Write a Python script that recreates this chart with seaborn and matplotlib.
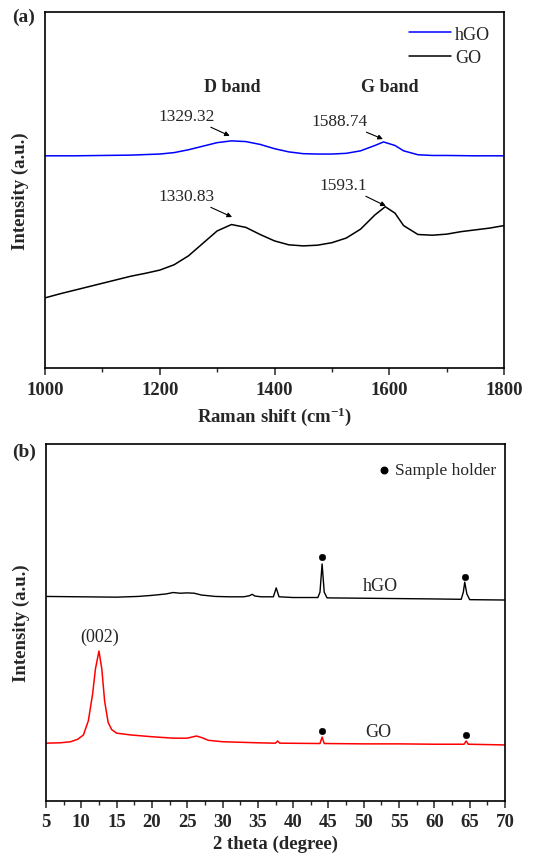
import matplotlib
matplotlib.use("Agg")
import matplotlib.pyplot as plt
import seaborn as sns
import pandas as pd

# ---------------- data: Raman (panel a) ----------------
raman_go_x = [1000, 1025, 1050, 1075, 1100, 1125, 1150, 1175, 1200, 1225, 1250, 1275,
              1300, 1325, 1350, 1375, 1400, 1425, 1450, 1475, 1500, 1525, 1550, 1575,
              1593, 1610, 1625, 1650, 1675, 1700, 1725, 1750, 1775, 1800]
raman_go_y = [19.7, 20.8, 21.8, 22.8, 23.8, 24.8, 25.8, 26.6, 27.5, 29.0, 31.5, 35.0,
              38.5, 40.3, 39.5, 37.5, 35.7, 34.6, 34.3, 34.5, 35.2, 36.5, 39.0, 43.0,
              45.3, 43.5, 40.0, 37.5, 37.3, 37.6, 38.3, 38.8, 39.3, 40.0]
raman_hgo_x = [1000, 1050, 1100, 1150, 1200, 1225, 1250, 1275, 1300, 1325, 1350, 1375,
               1400, 1425, 1450, 1475, 1500, 1525, 1550, 1575, 1590, 1610, 1625, 1650,
               1675, 1700, 1750, 1800]
raman_hgo_y = [59.6, 59.6, 59.7, 59.8, 60.1, 60.5, 61.3, 62.3, 63.3, 63.8, 63.6, 62.8,
               61.6, 60.7, 60.2, 60.1, 60.1, 60.3, 61.0, 62.5, 63.5, 62.5, 61.0, 59.9,
               59.7, 59.7, 59.6, 59.6]
raman_ticks = [1000, 1200, 1400, 1600, 1800]

# ---------------- data: XRD (panel b) ----------------
xrd_hgo_x = [5, 10, 15, 18, 20, 22, 23, 24, 25, 26, 27, 29, 31, 33, 33.8, 34.2, 34.6,
             35.5, 37.2, 37.6, 38.0, 40, 43.5, 43.8, 44.1, 44.4, 44.8, 50, 55, 60,
             63.8, 64.1, 64.3, 64.6, 65, 70]
xrd_hgo_y = [57.3, 57.2, 57.1, 57.3, 57.6, 58.0, 58.4, 58.2, 58.3, 58.2, 57.7, 57.3,
             57.2, 57.2, 57.5, 57.9, 57.4, 57.2, 57.2, 59.7, 57.2, 57.0, 57.0, 58.5,
             66.4, 58.5, 56.9, 56.8, 56.7, 56.6, 56.5, 58.5, 61.3, 58.0, 56.4, 56.3]
xrd_go_x = [5, 7, 8.5, 9.5, 10.3, 11, 11.6, 12.0, 12.5, 12.9, 13.3, 13.8, 14.3, 15,
            17, 20, 23, 25, 26.3, 27, 28, 30, 35, 37.5, 37.8, 38.1, 43.8, 44.1, 44.4,
            50, 55, 60, 64.2, 64.5, 64.8, 70]
xrd_go_y = [16.2, 16.3, 16.6, 17.3, 18.5, 22.5, 30.0, 37.0, 42.0, 37.0, 28.0, 22.0,
            20.0, 19.0, 18.5, 18.0, 17.6, 17.6, 18.2, 17.8, 17.0, 16.6, 16.3, 16.2,
            16.8, 16.2, 16.1, 17.9, 16.1, 16.0, 16.0, 15.9, 15.9, 16.8, 15.9, 15.7]
xrd_ticks = list(range(5, 71, 5))
holder_hgo_x = [44.1, 64.3]
holder_hgo_y = [68.3, 62.7]
holder_go_x = [44.1, 64.5]
holder_go_y = [19.6, 18.5]

# ---------------- style ----------------
sns.set_theme(style="ticks")
plt.rcParams["font.family"] = ["Liberation Serif", "DejaVu Serif"]
plt.rcParams["mathtext.fontset"] = "custom"
plt.rcParams["mathtext.rm"] = "Liberation Serif:bold"
plt.rcParams["mathtext.bf"] = "Liberation Serif:bold"
plt.rcParams["mathtext.default"] = "bf"
plt.rcParams["axes.linewidth"] = 1.2

fig = plt.figure(figsize=(5.51, 8.54), dpi=100)
ax1 = fig.add_axes([0.0817, 0.5679, 0.833, 0.4169])
ax2 = fig.add_axes([0.0835, 0.0609, 0.833, 0.418])

# ---------------- panel a ----------------
df_hgo = pd.DataFrame({"x": raman_hgo_x, "y": raman_hgo_y})
df_go = pd.DataFrame({"x": raman_go_x, "y": raman_go_y})
sns.lineplot(data=df_hgo, x="x", y="y", ax=ax1, color="#0000ff", lw=1.1, label="hGO")
sns.lineplot(data=df_go, x="x", y="y", ax=ax1, color="black", lw=1.1, label="GO")
ax1.set_xlim(1000, 1800)
ax1.set_ylim(0, 100)
ax1.set_xticks(raman_ticks)
ax1.set_xticks([1100, 1300, 1500, 1700], minor=True)
ax1.set_yticks([])
ax1.set_xlabel("Raman shift (cm$^{-1}$)", fontsize=13.5, fontweight="bold", labelpad=5)
ax1.set_ylabel("Intensity (a.u.)", fontsize=13.5, fontweight="bold")
leg = ax1.legend(loc="upper right", frameon=False, fontsize=13, handlelength=2.3,
                 handletextpad=0.25, borderaxespad=0.45, labelspacing=0.35,
                 borderpad=0.3)

ann_kw = dict(fontsize=12.5, ha="center", va="center",
              arrowprops=dict(arrowstyle="-|>", color="black", lw=0.8,
                              mutation_scale=7, shrinkA=0, shrinkB=0))
ax1.annotate("1329.32", xy=(1322, 65.2), xytext=(1246, 70.8), **ann_kw)
ax1.annotate("1588.74", xy=(1589, 64.3), xytext=(1513, 69.4), **ann_kw)
ax1.annotate("1330.83", xy=(1326, 42.4), xytext=(1246, 48.3), **ann_kw)
ax1.annotate("1593.1", xy=(1594, 45.5), xytext=(1519, 51.4), **ann_kw)
ax1.text(1326, 79.2, "D band", fontsize=13, fontweight="bold", ha="center", va="center")
ax1.text(1600, 79.2, "G band", fontsize=13, fontweight="bold", ha="center", va="center")

# ---------------- panel b ----------------
df_xh = pd.DataFrame({"x": xrd_hgo_x, "y": xrd_hgo_y})
df_xg = pd.DataFrame({"x": xrd_go_x, "y": xrd_go_y})
sns.lineplot(data=df_xh, x="x", y="y", ax=ax2, color="black", lw=1.0)
sns.lineplot(data=df_xg, x="x", y="y", ax=ax2, color="#ff0000", lw=1.1)
sns.scatterplot(x=holder_hgo_x, y=holder_hgo_y, ax=ax2, color="black", s=22, edgecolor="black")
sns.scatterplot(x=holder_go_x, y=holder_go_y, ax=ax2, color="black", s=22, edgecolor="black")
ax2.set_xlim(5, 70)
ax2.set_ylim(0, 100)
ax2.set_xticks(xrd_ticks)
ax2.set_xticks([x + 2.5 for x in xrd_ticks[:-1]], minor=True)
ax2.set_yticks([])
ax2.set_xlabel("2 theta (degree)", fontsize=13.5, fontweight="bold", labelpad=3)
ax2.set_ylabel("Intensity (a.u.)", fontsize=13.5, fontweight="bold")
ax2.text(52.3, 60.5, "hGO", fontsize=13, ha="center", va="center")
ax2.text(52.0, 19.6, "GO", fontsize=13, ha="center", va="center")
ax2.text(12.6, 46.2, "(002)", fontsize=13, ha="center", va="center")
ax2.scatter([52.8], [92.7], color="black", s=22)
ax2.text(54.4, 92.7, "Sample holder", fontsize=12.5, ha="left", va="center")

for ax in (ax1, ax2):
    ax.tick_params(axis="x", which="major", direction="out", length=5, width=1.1,
                   labelsize=13.5, pad=4)
    ax.tick_params(axis="x", which="minor", direction="out", length=3, width=1.0)
    for lab in ax.get_xticklabels():
        lab.set_fontweight("bold")
    for s in ax.spines.values():
        s.set_visible(True)
        s.set_linewidth(1.2)
        s.set_color("black")
    ax.yaxis.set_label_coords(-0.035, 0.5)

fig.text(0.022, 0.980, "(a)", fontsize=14, fontweight="bold", ha="left", va="center")
fig.text(0.022, 0.470, "(b)", fontsize=14, fontweight="bold", ha="left", va="center")

fig.savefig("out.png", dpi=100, facecolor="white")
